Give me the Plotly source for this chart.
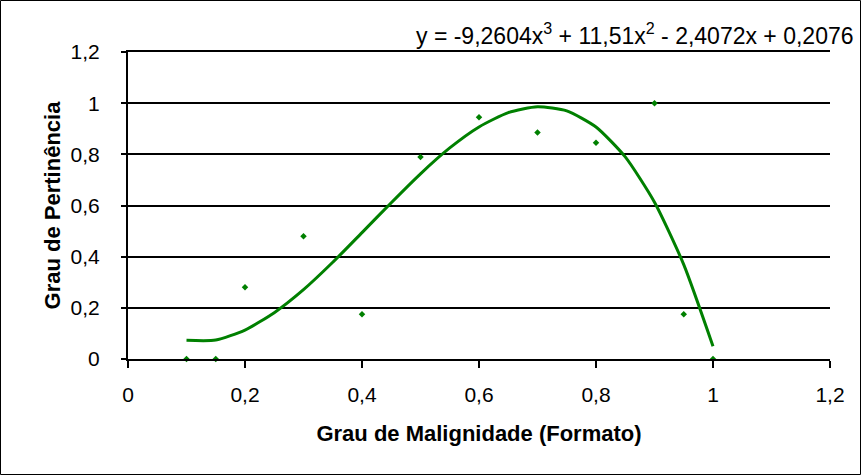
import plotly.graph_objects as go

# Observed data points
x_points = [0.1, 0.15, 0.2, 0.3, 0.4, 0.5, 0.6, 0.7, 0.8, 0.9, 0.95, 1.0]
y_points = [0.0, 0.0, 0.28, 0.48, 0.175, 0.79, 0.945, 0.885, 0.845, 1.0, 0.175, 0.0]

# Trendline values
x_trend = [0.1, 0.15, 0.2, 0.25, 0.3, 0.35, 0.4, 0.45, 0.5, 0.55, 0.6, 0.65,
           0.7, 0.75, 0.8, 0.85, 0.9, 0.95, 1.0]
y_trend = [0.073, 0.074, 0.113, 0.181, 0.271, 0.378, 0.494, 0.611, 0.724, 0.825,
           0.907, 0.963, 0.986, 0.970, 0.907, 0.790, 0.613, 0.369, 0.050]

x_ticks = [0, 0.2, 0.4, 0.6, 0.8, 1.0, 1.2]
y_ticks = [0, 0.2, 0.4, 0.6, 0.8, 1.0, 1.2]

equation = "y = -9,2604x<sup>3</sup> + 11,51x<sup>2</sup> - 2,4072x + 0,2076"
x_title = "Grau de Malignidade (Formato)"
y_title = "Grau de Pertinência"

green = "#008000"
font = "Liberation Sans, Arial, sans-serif"

fig = go.Figure()
fig.add_trace(go.Scatter(x=x_trend, y=y_trend, mode="lines",
                         line=dict(color=green, width=3, shape="spline", smoothing=0.6),
                         hoverinfo="skip", showlegend=False))
fig.add_trace(go.Scatter(x=x_points, y=y_points, mode="markers",
                         marker=dict(symbol="diamond", size=5, color=green),
                         showlegend=False, cliponaxis=False))

W, H = 861, 475
ml, mr, mt, mb = 128, 31, 52, 116
pw, ph = W - ml - mr, H - mt - mb

fig.update_layout(
    width=W, height=H,
    margin=dict(l=ml, r=mr, t=mt, b=mb, pad=0),
    paper_bgcolor="white", plot_bgcolor="white",
    separators=",.",
    font=dict(family=font, size=21, color="black"),
    xaxis=dict(range=[0, 1.2], tickvals=x_ticks, showgrid=False, zeroline=False,
               showline=True, linecolor="black", linewidth=2, mirror=True,
               ticks="outside", ticklen=7, tickwidth=1.5, tickcolor="black",
               ticklabelstandoff=9,
               tickfont=dict(size=21),
               title=dict(text="<b>" + x_title + "</b>", font=dict(size=22), standoff=20)),
    yaxis=dict(range=[0, 1.2], tickvals=y_ticks, showgrid=True, gridcolor="black",
               gridwidth=1.5, zeroline=False,
               showline=True, linecolor="black", linewidth=2,
               ticks="outside", ticklen=5, tickwidth=1.5, tickcolor="black",
               ticklabelstandoff=17,
               tickfont=dict(size=21),
               title=dict(text="<b>" + y_title + "</b>", font=dict(size=22), standoff=4)),
    annotations=[dict(text=equation, xref="paper", yref="paper",
                      x=(856 - ml) / pw, y=(H - mb - 34) / ph,
                      xanchor="right", yanchor="middle", showarrow=False,
                      font=dict(size=23))],
    shapes=[dict(type="rect", xref="paper", yref="paper",
                 x0=(0.5 - ml) / pw, x1=(W - 0.5 - ml) / pw,
                 y0=(H - mb - (H - 0.5)) / ph, y1=(H - mb - 0.5) / ph,
                 line=dict(color="black", width=1), layer="above")],
)

fig.write_html("out.html")
